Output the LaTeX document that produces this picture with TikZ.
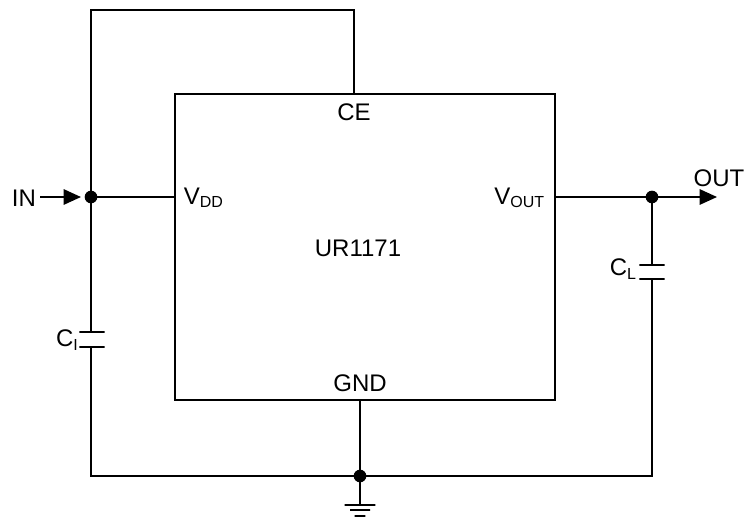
\documentclass[tikz,border=0pt]{standalone}
\usepackage{fontspec}
\setmainfont{Liberation Sans}
\usetikzlibrary{arrows.meta}
\newcommand{\lowtext}[1]{\raisebox{-2.6pt}{\fontsize{12}{12}\selectfont #1}}

\begin{document}
\begin{tikzpicture}[
	x=0.75pt,y=-0.75pt,
	line width=1.4pt,
	% Labels
	label/.style={inner sep=0pt,font=\fontsize{18}{20}\selectfont},
	% Wires and junction dots
	wire/.style={draw=black},
	dot/.style={circle,fill=black,inner sep=0pt,outer sep=0pt,minimum size=9.5pt},
	flow/.style={-{Triangle[length=13pt,width=11.5pt]}},
	% Capacitor and ground bars
	plate/.style={rectangle,draw,inner sep=0pt,minimum height=0pt,minimum width=19pt},
	ground1/.style={plate,minimum width=23pt},
	ground2/.style={plate,minimum width=15pt},
	ground3/.style={plate,minimum width=8pt}
	]
	\useasboundingbox (0,0) rectangle (745,518);
	%% Chip
	\node (chip) [draw,rectangle,inner sep=0pt,minimum width=285pt,minimum height=229.5pt] at (365,247) {};
	\node (name) [label] at (358,248) {UR1171};
	\node (ce) [label] at (354,112) {CE};
	\node (gnd) [label] at (360,383) {GND};
	\node (vdd) [label,anchor=west] at (183,198) {V\lowtext{DD}};
	\node (vout) [label,anchor=east] at (545,198) {V\lowtext{OUT}};
	%% Junctions
	\node (j1) [dot] at (91,197) {};
	\node (j2) [dot] at (652,197) {};
	\node (j3) [dot] at (360,476) {};
	\coordinate (vddpin) at (175,197);
	\coordinate (outpin) at (555,197);
	\coordinate (cepin) at (354,94);
	\coordinate (gndpin) at (360,400);
	\coordinate (intail) at (40,197);
	\coordinate (intip) at (81,197);
	\coordinate (outtip) at (717,197);
	\coordinate (top1) at (91,10);
	\coordinate (top2) at (354,10);
	\coordinate (low1) at (91,476);
	\coordinate (low2) at (652,476);
	%% Capacitors
	\node (ci1) [plate] at (92,332) {};
	\node (ci2) [plate] at (92,347) {};
	\node (cl1) [plate] at (652,265) {};
	\node (cl2) [plate] at (652,279) {};
	\node (cilabel) [label] at (67,340) {C\lowtext{I}};
	\node (cllabel) [label] at (623,269) {C\lowtext{L}};
	%% Ground
	\node (g1) [ground1] at (360,505) {};
	\node (g2) [ground2] at (360,510) {};
	\node (g3) [ground3] at (360,516) {};
	%% Ports
	\node (in) [label] at (24,198) {IN};
	\node (out) [label] at (719,178) {OUT};
	%% Wires
	\draw [wire] (j1) -- (vddpin);
	\draw [wire] (j1) -- (top1) -- (top2) -- (cepin);
	\draw [wire] (j1) -- (j1 |- ci1.center);
	\draw [wire] (j1 |- ci2.center) -- (low1) -- (low2) -- (j2 |- cl2.center);
	\draw [wire] (j2) -- (j2 |- cl1.center);
	\draw [wire] (outpin) -- (j2);
	\draw [wire] (gndpin) -- (j3);
	\draw [wire] (j3) -- (g1.center);
	\draw [wire,flow] (intail) -- (intip);
	\draw [wire,flow] (j2) -- (outtip);
\end{tikzpicture}
\end{document}
